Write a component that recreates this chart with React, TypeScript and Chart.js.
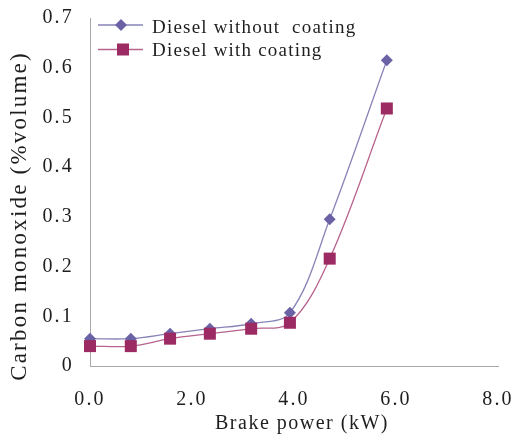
import React, { useEffect, useRef } from 'react';
import { Chart, registerables } from 'chart.js';

Chart.register(...registerables);

// ---- data ----
const brakePower = [0, 0.8, 1.57, 2.35, 3.16, 3.92, 4.7, 5.82];
const coWithout = [0.055, 0.055, 0.065, 0.075, 0.085, 0.107, 0.295, 0.615];
const coWith = [0.04, 0.04, 0.055, 0.065, 0.075, 0.087, 0.216, 0.518];
const seriesLabels = ['Diesel without  coating', 'Diesel with coating'];
const xTitle = 'Brake power (kW)';
const yTitle = 'Carbon monoxide (%volume)';

const FONT = '"Liberation Serif", "Times New Roman", serif';
const TEXT = '#1e1e1e';
const AXIS = '#a8a8a8';
const C1_POINT = '#6a62a4';
const C1_LINE = '#8884b8';
const C2_POINT = '#9c2b63';
const C2_LINE = '#b8638e';

const spacingPlugin = {
  id: 'spacing',
  beforeLayout(chart: any) {
    chart.ctx.letterSpacing = '2.2px';
  },
  beforeDraw(chart: any) {
    chart.ctx.letterSpacing = '2.2px';
  },
};

const extrasPlugin = {
  id: 'extras',
  afterDraw(chart: any) {
    const ctx = chart.ctx as CanvasRenderingContext2D;
    const area = chart.chartArea;
    // Y title
    ctx.save();
    (ctx as any).letterSpacing = '2.2px';
    ctx.translate(20, 216);
    ctx.rotate(-Math.PI / 2);
    ctx.font = `23px ${FONT}`;
    ctx.fillStyle = TEXT;
    ctx.textAlign = 'center';
    ctx.textBaseline = 'middle';
    ctx.fillText(yTitle, 0, 0);
    ctx.restore();

    // X title
    ctx.save();
    (ctx as any).letterSpacing = '1.5px';
    ctx.font = `20px ${FONT}`;
    ctx.fillStyle = TEXT;
    ctx.textAlign = 'center';
    ctx.textBaseline = 'middle';
    ctx.fillText(xTitle, (area.left + area.right) / 2 + 8, 424);
    ctx.restore();

    // Legend
    const rows = [25, 49.5];
    const baselines = [33, 55.5];
    chart.data.datasets.forEach((ds: any, i: number) => {
      const y = rows[i];
      ctx.save();
      (ctx as any).letterSpacing = '0px';
      ctx.strokeStyle = ds.borderColor;
      ctx.lineWidth = 1.3;
      ctx.beginPath();
      ctx.moveTo(98, y);
      ctx.lineTo(143, y);
      ctx.stroke();
      ctx.fillStyle = ds.pointBackgroundColor;
      if (ds.pointStyle === 'rectRot') {
        const r = 6;
        const cx = 121;
        ctx.beginPath();
        ctx.moveTo(cx, y - r);
        ctx.lineTo(cx + r, y);
        ctx.lineTo(cx, y + r);
        ctx.lineTo(cx - r, y);
        ctx.closePath();
        ctx.fill();
      } else {
        const s = 6;
        const cx = 123;
        ctx.fillRect(cx - s, y - s, 2 * s, 2 * s);
      }
      (ctx as any).letterSpacing = '1.2px';
      ctx.font = `19px ${FONT}`;
      ctx.fillStyle = TEXT;
      ctx.textAlign = 'left';
      ctx.textBaseline = 'alphabetic';
      ctx.fillText(ds.label, 152, baselines[i]);
      ctx.restore();
    });
  },
};

export default function App() {
  const ref = useRef<HTMLCanvasElement>(null);
  useEffect(() => {
    if (!ref.current) return;
    const chart = new Chart(ref.current, {
      type: 'line',
      data: {
        datasets: [
          {
            label: seriesLabels[0],
            data: brakePower.map((x, i) => ({ x, y: coWithout[i] })),
            borderColor: C1_LINE,
            borderWidth: 1.3,
            pointStyle: 'rectRot',
            pointRadius: 6,
            pointBackgroundColor: C1_POINT,
            pointBorderColor: C1_POINT,
            pointBorderWidth: 0,
            tension: 0.35,
            clip: false,
            order: 1,
          },
          {
            label: seriesLabels[1],
            data: brakePower.map((x, i) => ({ x, y: coWith[i] })),
            borderColor: C2_LINE,
            borderWidth: 1.3,
            pointStyle: 'rect',
            pointRadius: 8.5,
            pointBackgroundColor: C2_POINT,
            pointBorderColor: C2_POINT,
            pointBorderWidth: 0,
            tension: 0.35,
            clip: false,
            order: 0,
          },
        ],
      },
      options: {
        responsive: false,
        animation: false,
        devicePixelRatio: 1,
        layout: { padding: { top: 18, right: 18, left: 0, bottom: 0 } },
        plugins: { legend: { display: false }, tooltip: { enabled: false } },
        scales: {
          x: {
            type: 'linear',
            min: 0,
            max: 8,
            grid: { display: false, drawTicks: false },
            border: { display: true, color: AXIS, width: 1 },
            ticks: {
              stepSize: 2,
              padding: 22,
              color: TEXT,
              font: { family: FONT, size: 20 },
              maxRotation: 0,
              callback: (v: any) => Number(v).toFixed(1),
            },
            title: { display: false },
            afterFit: (s: any) => {
              s.height = 70;
              s.paddingLeft = 0;
              s.paddingRight = 0;
            },
          },
          y: {
            type: 'linear',
            min: 0,
            max: 0.7,
            grid: { display: false, drawTicks: false },
            border: { display: true, color: AXIS, width: 1 },
            ticks: {
              stepSize: 0.1,
              padding: 16,
              color: TEXT,
              font: { family: FONT, size: 20 },
              callback: (v: any) => (Number(v) === 0 ? '0' : Number(v).toFixed(1)),
            },
            afterFit: (s: any) => {
              s.width = 90;
              s.paddingTop = 0;
              s.paddingBottom = 0;
            },
          },
        },
      },
      plugins: [spacingPlugin, extrasPlugin],
    } as any);
    return () => chart.destroy();
  }, []);
  return (
    <div style={{ position: 'absolute', left: 0, top: 0, width: 516, height: 436, background: '#fff' }}>
      <canvas ref={ref} width={516} height={436} />
    </div>
  );
}
